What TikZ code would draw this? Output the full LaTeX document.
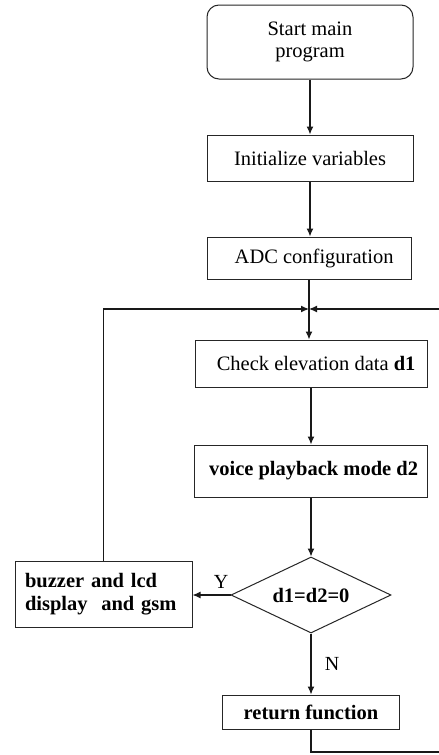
\documentclass[tikz,border=0pt]{standalone}
\usepackage{fontspec}
\setmainfont{Liberation Serif}
\usetikzlibrary{shapes.geometric,arrows.meta,calc}
\begin{document}
\begin{tikzpicture}[x=1pt,y=1pt,
  box/.style={draw=black!85,line width=1pt,inner sep=0pt,align=center,
              font=\fontsize{20.5}{22}\selectfont},
  cond/.style={draw=black!85,line width=1pt,diamond,aspect=2.1,inner sep=0pt,
              font=\fontsize{20.5}{22}\selectfont\bfseries},
  lbl/.style={font=\fontsize{20}{22}\selectfont},
  line/.style={draw=black!90,line width=1.2pt},
  arr/.style={line,-{Latex[length=8pt,width=7pt]}}]
\useasboundingbox (0,0) rectangle (439,-755);
\fill[white] (0,0) rectangle (439,-755);

\node[box,rounded corners=12pt,minimum width=206pt,minimum height=74pt] (start) at (310,-42) {Start main\\program};
\node[box,minimum width=206pt,minimum height=46pt] (init) at (310,-158) {Initialize variables};
\node[box,minimum width=204pt,minimum height=42pt] (adc) at (309,-258) {\ \ ADC configuration};
\coordinate (J) at (309,-309);
\node[box,minimum width=232pt,minimum height=47pt] (check) at (311,-363.5) {\ \ Check elevation data \textbf{d1}};
\node[box,minimum width=233pt,minimum height=52pt] (voice) at (311,-471) {\bfseries\ voice playback mode d2};
\node[cond,minimum width=160pt,minimum height=76pt] (dec) at (311,-595) {d1=d2=0};
\node[box,minimum width=177pt,minimum height=66pt,text width=157pt,align=left,inner xsep=10pt,
      font=\fontsize{20.5}{23}\selectfont\bfseries] (buzzer) at (103.5,-594) {buzzer and lcd\\display\ \ and gsm};
\node[box,minimum width=177pt,minimum height=34pt,font=\fontsize{20.5}{22}\selectfont\bfseries] (ret) at (311,-712) {return function};
\coordinate (B) at (470,-752);

\draw[arr] (start) -- (init);
\draw[arr] (init) -- (init |- adc.north);
\draw[line] (adc) -- (J);
\draw[arr] (J) -- (J |- check.north);
\draw[arr] (check) -- (voice);
\draw[arr] (voice) -- (dec);
\draw[arr] (dec.west) -- (dec.west -| buzzer.east) node[lbl,pos=0.25,above=3pt] {Y};
\draw[arr] (dec) -- (ret) node[lbl,midway,right=10pt] {N};
\draw[arr] (buzzer.north) |- (J);
\draw[arr] (ret.south) |- (B) |- (J);
\end{tikzpicture}
\end{document}
